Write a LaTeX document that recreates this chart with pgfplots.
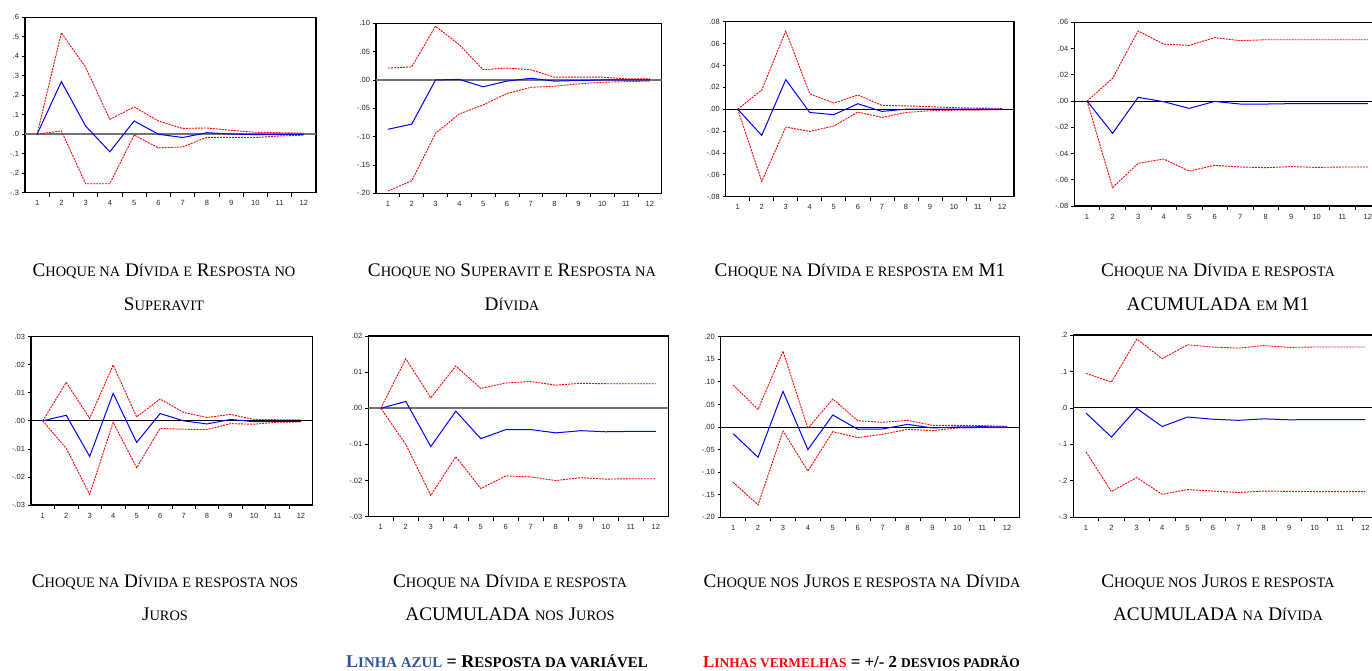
\documentclass[border=0pt]{standalone}
\usepackage{fontspec}
\setmainfont{Liberation Serif}
\setsansfont{Liberation Sans}
\usepackage{pgfplots}
\usepackage{pgfplotstable}
\pgfplotsset{compat=1.18}

\definecolor{legblue}{RGB}{47,84,160}
\newcommand\cs[1]{{\fontsize{14.4}{15}\selectfont #1}}
\newcommand\ls[1]{{\fontsize{14.9}{15}\selectfont #1}}
\newcommand\lt[1]{{\fontsize{13.4}{14}\selectfont #1}}

\pgfplotstableread{
x b u l
1 0 0 0
2 0.27 0.521 0.017
3 0.042 0.343 -0.254
4 -0.09 0.076 -0.254
5 0.068 0.14 -0.004
6 0 0.068 -0.07
7 -0.017 0.03 -0.065
8 0.008 0.032 -0.016
9 0.001 0.02 -0.016
10 -0.002 0.01 -0.017
11 -0.002 0.008 -0.009
12 0 0.005 -0.005
}\tA
\pgfplotstableread{
x b u l
1 -0.087 0.021 -0.196
2 -0.078 0.023 -0.178
3 0 0.095 -0.094
4 0.001 0.062 -0.060
5 -0.012 0.018 -0.044
6 -0.002 0.021 -0.024
7 0.003 0.018 -0.013
8 -0.002 0.005 -0.011
9 -0.001 0.005 -0.007
10 0 0.005 -0.004
11 0 0.002 -0.003
12 0 0.002 -0.002
}\tB
\pgfplotstableread{
x b u l
1 0 0 0
2 -0.024 0.0175 -0.066
3 0.027 0.0715 -0.0163
4 -0.003 0.014 -0.0203
5 -0.005 0.0056 -0.0154
6 0.005 0.013 -0.0026
7 -0.002 0.0035 -0.0075
8 0 0.003 -0.003
9 0 0.0023 -0.0014
10 0 0.0014 -0.001
11 0 0.001 -0.0008
12 0 0.0008 -0.0005
}\tC
\pgfplotstableread{
x b u l
1 0 0 0
2 -0.0246 0.0173 -0.066
3 0.0028 0.0534 -0.0475
4 -0.0005 0.0434 -0.0442
5 -0.0056 0.0424 -0.0534
6 -0.0003 0.0483 -0.049
7 -0.0023 0.046 -0.0503
8 -0.0023 0.0467 -0.0508
9 -0.002 0.0467 -0.05
10 -0.002 0.0467 -0.0506
11 -0.002 0.0467 -0.0503
12 -0.002 0.0467 -0.0503
}\tD
\pgfplotstableread{
x b u l
1 0 0 0
2 0.002 0.0137 -0.0098
3 -0.0127 0.0009 -0.0262
4 0.0098 0.0199 -0.0005
5 -0.0077 0.0014 -0.0167
6 0.0026 0.0078 -0.0027
7 0 0.003 -0.003
8 -0.0011 0.0012 -0.0031
9 0.0005 0.0023 -0.001
10 -0.0003 0.0005 -0.0012
11 -0.0002 0.0004 -0.0005
12 -0.0002 0.0004 -0.0004
}\tE
\pgfplotstableread{
x b u l
1 0 0 0
2 0.0019 0.0137 -0.01
3 -0.0106 0.0029 -0.0241
4 -0.0008 0.0117 -0.0134
5 -0.0084 0.0055 -0.0222
6 -0.0059 0.007 -0.0187
7 -0.0059 0.0074 -0.019
8 -0.0068 0.0064 -0.02
9 -0.0062 0.0069 -0.0192
10 -0.0065 0.0068 -0.0196
11 -0.0064 0.0068 -0.0195
12 -0.0064 0.0068 -0.0195
}\tF
\pgfplotstableread{
x b u l
1 -0.0148 0.093 -0.1225
2 -0.067 0.039 -0.1727
3 0.079 0.168 -0.0089
4 -0.05 -0.003 -0.0974
5 0.0266 0.062 -0.0103
6 -0.005 0.014 -0.0236
7 -0.0044 0.0103 -0.0162
8 0.0059 0.0148 -0.0052
9 -0.0022 0.0037 -0.0081
10 0 0.0037 -0.0022
11 0.0007 0.003 -0.0015
12 0 0.0015 -0.0015
}\tG
\pgfplotstableread{
x b u l
1 -0.014 0.0946 -0.1205
2 -0.080 0.0709 -0.2295
3 -0.0015 0.189 -0.191
4 -0.051 0.135 -0.237
5 -0.025 0.173 -0.224
6 -0.031 0.167 -0.228
7 -0.034 0.164 -0.232
8 -0.030 0.171 -0.228
9 -0.0326 0.166 -0.229
10 -0.032 0.167 -0.2295
11 -0.032 0.167 -0.2295
12 -0.032 0.167 -0.2295
}\tH

\pgfplotsset{
  irf/.style={
    scale only axis, anchor=north west,
    xmin=0.5, xmax=12.5,
    xtick={1,...,12}, xticklabels={1,2,3,4,5,6,7,8,9,10,11,12},
    minor xtick={1.5,2.5,...,11.5},
    major x tick style={draw=none},
    scaled y ticks=false,
    tick align=outside, xtick pos=bottom, ytick pos=left,
    minor tick length=4pt, major tick length=3pt,
    ticklabel style={font=\sffamily\fontsize{7.5}{8}\selectfont, text=black!85},
    xticklabel style={yshift=-1.5pt},
    yticklabel style={xshift=0.5pt},
    axis line style={line width=1.1pt},
    tick style={black, line width=0.7pt},
  },
  bl/.style={blue, line width=1pt},
  rd/.style={red, line width=0.9pt, dash pattern=on 2pt off 1pt},
  z0/.style={black, line width=0.9pt},
  zg/.style={black!55, line width=1.8pt},
}

\begin{document}
\begin{tikzpicture}
\path[use as bounding box] (0,0) rectangle (1372pt,670pt);

% Panel 1
\begin{axis}[irf, at={(25pt,652.7pt)}, width=291pt, height=175.4pt,
  ymin=-0.3, ymax=0.6, ytick={-0.3,-0.2,-0.1,0,0.1,0.2,0.3,0.4,0.5,0.6},
  yticklabels={-.3,-.2,-.1,.0,.1,.2,.3,.4,.5,.6}]
\addplot[zg] coordinates {(0.5,0) (12.5,0)};
\addplot[rd] table[x=x,y=u]{\tA};
\addplot[rd] table[x=x,y=l]{\tA};
\addplot[bl] table[x=x,y=b]{\tA};
\end{axis}

% Panel 2
\begin{axis}[irf, at={(376pt,646.7pt)}, width=285.7pt, height=170pt,
  ymin=-0.2, ymax=0.1, ytick={-0.2,-0.15,-0.1,-0.05,0,0.05,0.1},
  yticklabels={-.20,-.15,-.10,-.05,.00,.05,.10}]
\addplot[zg] coordinates {(0.5,0) (12.5,0)};
\addplot[rd] table[x=x,y=u]{\tB};
\addplot[rd] table[x=x,y=l]{\tB};
\addplot[bl] table[x=x,y=b]{\tB};
\end{axis}

% Panel 3
\begin{axis}[irf, at={(725.7pt,648.3pt)}, width=288.3pt, height=175pt,
  ymin=-0.08, ymax=0.08, ytick={-0.08,-0.06,-0.04,-0.02,0,0.02,0.04,0.06,0.08},
  yticklabels={-.08,-.06,-.04,-.02,.00,.02,.04,.06,.08}]
\addplot[z0] coordinates {(0.5,0) (12.5,0)};
\addplot[rd] table[x=x,y=u]{\tC};
\addplot[rd] table[x=x,y=l]{\tC};
\addplot[bl] table[x=x,y=b]{\tC};
\end{axis}

% Panel 4
\begin{axis}[irf, at={(1074.3pt,647.7pt)}, width=306.2pt, height=183.7pt,
  ymin=-0.08, ymax=0.06, ytick={-0.08,-0.06,-0.04,-0.02,0,0.02,0.04,0.06},
  yticklabels={-.08,-.06,-.04,-.02,.00,.02,.04,.06}]
\addplot[z0] coordinates {(0.5,0) (12.5,0)};
\addplot[rd] table[x=x,y=u]{\tD};
\addplot[rd] table[x=x,y=l]{\tD};
\addplot[bl] table[x=x,y=b]{\tD};
\end{axis}

% Panel 5
\begin{axis}[irf, at={(31pt,333.3pt)}, width=281.7pt, height=168.3pt,
  ymin=-0.03, ymax=0.03, ytick={-0.03,-0.02,-0.01,0,0.01,0.02,0.03},
  yticklabels={-.03,-.02,-.01,.00,.01,.02,.03}]
\addplot[z0] coordinates {(0.5,0) (12.5,0)};
\addplot[rd] table[x=x,y=u]{\tE};
\addplot[rd] table[x=x,y=l]{\tE};
\addplot[bl] table[x=x,y=b]{\tE};
\end{axis}

% Panel 6
\begin{axis}[irf, at={(368.3pt,334pt)}, width=300pt, height=180.7pt,
  ymin=-0.03, ymax=0.02, ytick={-0.03,-0.02,-0.01,0,0.01,0.02},
  yticklabels={-.03,-.02,-.01,.00,.01,.02}]
\addplot[zg] coordinates {(0.5,0) (12.5,0)};
\addplot[rd] table[x=x,y=u]{\tF};
\addplot[rd] table[x=x,y=l]{\tF};
\addplot[bl] table[x=x,y=b]{\tF};
\end{axis}

% Panel 7
\begin{axis}[irf, at={(720.7pt,333.3pt)}, width=298.9pt, height=180.6pt,
  ymin=-0.2, ymax=0.2, ytick={-0.2,-0.15,-0.1,-0.05,0,0.05,0.1,0.15,0.2},
  yticklabels={-.20,-.15,-.10,-.05,.00,.05,.10,.15,.20}]
\addplot[z0] coordinates {(0.5,0) (12.5,0)};
\addplot[rd] table[x=x,y=u]{\tG};
\addplot[rd] table[x=x,y=l]{\tG};
\addplot[bl] table[x=x,y=b]{\tG};
\end{axis}

% Panel 8
\begin{axis}[irf, at={(1073.3pt,335pt)}, width=304.7pt, height=182.3pt,
  ymin=-0.3, ymax=0.2, ytick={-0.3,-0.2,-0.1,0,0.1,0.2},
  yticklabels={-.3,-.2,-.1,.0,.1,.2}]
\addplot[z0] coordinates {(0.5,0) (12.5,0)};
\addplot[rd] table[x=x,y=u]{\tH};
\addplot[rd] table[x=x,y=l]{\tH};
\addplot[bl] table[x=x,y=b]{\tH};
\end{axis}

% Captions
\begin{scope}[every node/.style={font=\fontsize{19.2}{21}\selectfont, anchor=base, inner sep=0pt}]
\node at (164pt,393pt) {C\cs{HOQUE NA} D\cs{ÍVIDA E} R\cs{ESPOSTA NO}};
\node at (164pt,359pt) {S\cs{UPERAVIT}};
\node at (512pt,393pt) {C\cs{HOQUE NO} S\cs{UPERAVIT E} R\cs{ESPOSTA NA}};
\node at (512pt,359pt) {D\cs{ÍVIDA}};
\node at (860pt,393pt) {C\cs{HOQUE NA} D\cs{ÍVIDA E RESPOSTA EM} M1};
\node at (1218pt,393pt) {C\cs{HOQUE NA} D\cs{ÍVIDA E RESPOSTA}};
\node at (1218pt,359pt) {ACUMULADA \cs{EM} M1};

\node at (165pt,83pt) {C\cs{HOQUE NA} D\cs{ÍVIDA E RESPOSTA NOS}};
\node at (165pt,50pt) {J\cs{UROS}};
\node at (510pt,83pt) {C\cs{HOQUE NA} D\cs{ÍVIDA E RESPOSTA}};
\node at (510pt,50pt) {ACUMULADA \cs{NOS} J\cs{UROS}};
\node at (862pt,83pt) {C\cs{HOQUE NOS} J\cs{UROS E RESPOSTA NA} D\cs{ÍVIDA}};
\node at (1218pt,83pt) {C\cs{HOQUE NOS} J\cs{UROS E RESPOSTA}};
\node at (1218pt,50pt) {ACUMULADA \cs{NA} D\cs{ÍVIDA}};
\end{scope}

% Legend
\node[font=\bfseries\fontsize{18}{20}\selectfont, anchor=base west, inner sep=0pt] at (346pt,3pt) {\textcolor{legblue}{L\ls{INHA AZUL}} = R\ls{ESPOSTA DA VARIÁVEL}};
\node[font=\bfseries\fontsize{16.8}{18}\selectfont, anchor=base west, inner sep=0pt] at (703pt,3pt) {\textcolor{red}{L\lt{INHAS VERMELHAS}} = +/- 2 \lt{DESVIOS PADRÃO}};
\end{tikzpicture}
\end{document}
